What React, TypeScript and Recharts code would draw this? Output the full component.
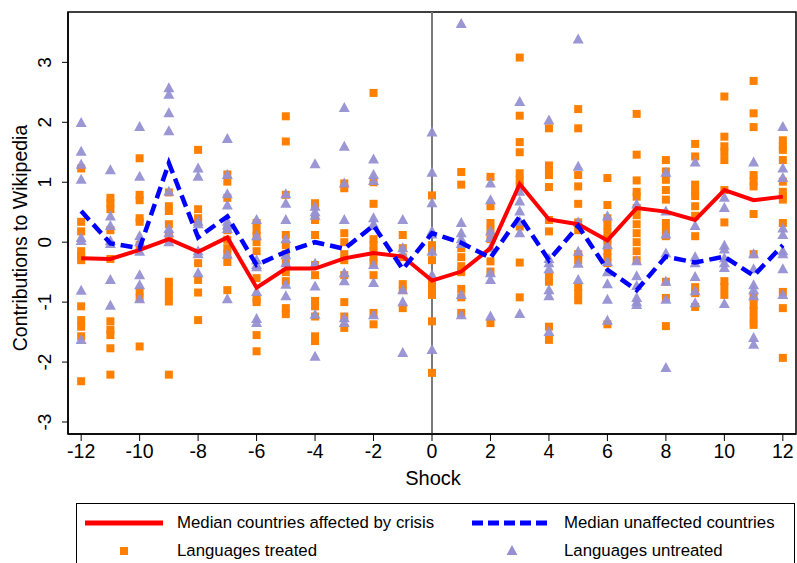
import React from "react"
import { ComposedChart, XAxis, YAxis, Scatter, ReferenceLine, ReferenceArea } from "recharts"

const FONT = "'Liberation Sans', Arial, sans-serif"

// event time around the shock
const shocks = [-12, -11, -10, -9, -8, -7, -6, -5, -4, -3, -2, -1, 0, 1, 2, 3, 4, 5, 6, 7, 8, 9, 10, 11, 12]

const medianAffected = [
  -0.27, -0.28, -0.13, 0.05, -0.16, 0.08, -0.76, -0.44, -0.44, -0.27, -0.18, -0.24, -0.64,
  -0.49, -0.1, 0.97, 0.38, 0.3, 0.03, 0.57, 0.51, 0.37, 0.87, 0.7, 0.76,
]

const medianUnaffected = [
  0.52, -0.02, -0.1, 1.32, 0.08, 0.43, -0.38, -0.16, 0.0, -0.11, 0.28, -0.45, 0.15,
  -0.01, -0.26, 0.43, -0.3, 0.27, -0.46, -0.8, -0.24, -0.34, -0.24, -0.56, -0.05,
]

// languages treated (squares), one list per shock
const treated = [
  [1.23, 0.34, 0.18, -0.15, -0.24, -0.3, -1.07, -1.3, -1.41, -1.57, -2.32],
  [0.74, 0.65, 0.55, 0.2, -0.28, -1.32, -1.46, -1.55, -1.77, -2.21],
  [1.4, 0.79, 0.7, 0.4, 0.34, -0.05, -0.82, -0.93, -1.74],
  [0.83, 0.6, 0.52, 0.3, 0.12, -0.66, -0.77, -0.88, -0.99, -2.21],
  [1.54, 0.55, 0.4, 0.33, -0.35, -0.63, -0.84, -1.3],
  [1.13, 1.01, 0.74, 0.2, 0.04, -0.1, -0.2, -0.33, -0.8],
  [0.32, 0.2, 0.1, 0.0, -0.15, -0.6, -0.95, -1.0, -1.55, -1.82],
  [2.1, 1.68, 0.79, 0.12, -0.05, -0.2, -0.35, -0.5, -0.65, -1.1, -1.2],
  [0.65, 0.6, 0.37, 0.12, -0.38, -0.55, -0.98, -1.07, -1.24, -1.57, -1.65],
  [0.98, 0.9, 0.15, 0.0, -0.2, -0.3, -0.55, -1.0, -1.24, -1.43],
  [2.49, 1.0, 0.64, 0.05, -0.05, -0.15, -0.25, -0.35, -0.55, -1.18, -1.37],
  [0.12, -0.1, -0.25, -0.7, -0.8, -1.1],
  [0.78, -0.05, -0.15, -0.3, -0.68, -0.78, -0.88, -1.32, -2.18],
  [1.17, 0.96, -0.1, -0.25, -0.4, -0.5, -0.78, -0.92, -1.18],
  [1.09, 0.6, 0.32, 0.2, 0.05, -0.32, -0.49, -1.35],
  [3.08, 2.11, 1.67, 1.5, 1.15, 1.04, 0.93, 0.26, -0.34, -0.92],
  [1.9, 1.28, 1.2, 1.12, 0.92, 0.37, 0.18, -0.58, -0.66, -1.41, -1.63],
  [2.22, 1.9, 1.12, 0.93, 0.64, 0.33, 0.2, -0.2, -0.3, -0.75, -0.85, -0.97],
  [1.07, 0.62, 0.4, 0.28, 0.17, 0.06, -0.05, -0.15, -0.25, -0.35, -1.37],
  [2.14, 1.46, 1.03, 0.84, 0.76, 0.57, 0.45, 0.3, 0.15, 0.0, -0.15, -0.3],
  [1.37, 1.18, 1.04, 0.87, 0.71, 0.32, 0.2, 0.1, -0.66, -0.93, -1.4],
  [1.64, 1.43, 0.96, 0.85, 0.77, 0.6, 0.44, 0.1, -0.75, -0.85, -1.08],
  [2.43, 1.76, 1.6, 1.5, 1.37, 0.87, 0.33, -0.65, -0.75, -0.88],
  [2.69, 2.15, 1.92, 1.12, 1.02, 0.93, 0.47, -0.2, -0.93, -1.05, -1.15, -1.27, -1.38],
  [1.7, 1.6, 1.54, 1.37, 1.01, 0.84, 0.77, 0.71, 0.32, -0.83, -1.1, -1.93],
]

// languages untreated (triangles), one list per shock
const untreated = [
  [1.99, 1.51, 1.29, 1.04, 0.07, 0.02, -0.81, -1.63],
  [1.2, 0.43, 0.27, 0.02, -0.03, -0.63, -1.06],
  [1.92, 1.09, 0.1, 0.0, -0.16, -0.55, -0.72, -0.95],
  [2.57, 2.46, 2.15, 1.85, 0.84, 0.22, 0.15, 0.0],
  [1.23, 1.09, 0.34, 0.3, -0.15, -0.2, -0.52],
  [1.72, 1.12, 0.8, 0.61, 0.34, 0.28, 0.22, -0.21, -0.95],
  [0.37, 0.1, -0.3, -0.38, -0.42, -0.83, -1.28, -1.35],
  [0.8, 0.64, 0.37, 0.05, -0.22, -0.35, -0.71, -0.9],
  [1.3, 0.59, 0.5, 0.44, -0.36, -0.74, -1.21, -1.91],
  [2.24, 1.59, 0.98, 0.37, -0.52, -0.65, -1.27, -1.35],
  [1.38, 1.12, 1.02, 0.4, 0.3, 0.27, -0.38, -0.68, -1.22],
  [0.37, -0.1, -0.2, -0.8, -1.0, -1.85],
  [1.83, 1.16, 0.65, 0.18, 0.13, -0.16, -0.55, -1.8],
  [3.64, 0.32, 0.15, 0.05, -0.03, -0.88, -1.22],
  [0.98, 0.7, 0.18, 0.07, -0.1, -0.52, -0.63, -1.24],
  [2.34, 0.84, 0.68, 0.51, 0.34, 0.15, -1.2],
  [2.03, -0.28, -0.35, -0.45, -0.8, -0.9, -1.5],
  [3.38, 1.26, 0.33, -0.16, -0.36, -0.63],
  [0.43, -0.05, -0.33, -0.5, -0.7, -0.96, -1.31],
  [0.63, -0.32, -0.57, -0.73, -0.93, -1.0, -1.05],
  [1.16, 0.51, 0.13, -0.19, -0.66, -0.96, -2.1],
  [1.33, 0.27, -0.25, -0.35, -0.58, -0.82, -1.02],
  [0.74, 0.57, -0.06, -0.12, -0.27, -0.35, -0.43, -1.03],
  [1.33, -0.2, -0.45, -0.72, -0.8, -0.9, -1.6, -1.71],
  [1.92, 1.23, 1.07, 0.23, 0.12, -0.15, -0.2, -0.45, -0.88],
]

const xTicks = [-12, -10, -8, -6, -4, -2, 0, 2, 4, 6, 8, 10, 12]
const yTicks = [-3, -2, -1, 0, 1, 2, 3]

const X_DOMAIN = [-12.45, 12.45]
const Y_DOMAIN = [-3.2, 3.84]

const ORANGE = "#ff8000"
const PURPLE = "#9690d2"

const treatedPoints = shocks.flatMap((s, i) => treated[i].map((y) => ({ x: s, y })))
const untreatedPoints = shocks.flatMap((s, i) => untreated[i].map((y) => ({ x: s, y })))
const affectedLine = shocks.map((s, i) => ({ x: s, y: medianAffected[i] }))
const unaffectedLine = shocks.map((s, i) => ({ x: s, y: medianUnaffected[i] }))

const Square = (props: any) => (
  <rect x={props.cx - 4} y={props.cy - 4} width={8} height={8} fill={ORANGE} />
)

const Triangle = (props: any) => {
  const { cx, cy } = props
  return (
    <polygon
      points={`${cx},${cy - 6} ${cx - 5.5},${cy + 4} ${cx + 5.5},${cy + 4}`}
      fill={PURPLE}
      fillOpacity={0.95}
    />
  )
}

const NoDot = () => <g />

const YTick = (props: any) => {
  const { y, payload } = props
  return (
    <text
      x={51}
      y={y}
      transform={`rotate(-90, 51, ${y})`}
      textAnchor="middle"
      fontSize={19}
      fontFamily={FONT}
      fill="#000"
    >
      {payload.value}
    </text>
  )
}

function Legend() {
  return (
    <div
      style={{
        position: "absolute",
        left: 76,
        top: 503,
        width: 719,
        height: 80,
        border: "1px solid #000",
        boxSizing: "border-box",
        fontFamily: FONT,
        fontSize: 16.8,
        color: "#000",
      }}
    >
      <svg width={719} height={80} style={{ position: "absolute", left: 0, top: 0 }}>
        <line x1={8} x2={86} y1={19} y2={19} stroke="#ff0000" strokeWidth={5} />
        <line x1={395} x2={475} y1={19} y2={19} stroke="#0000ff" strokeWidth={5} strokeDasharray="11 5" />
        <rect x={43} y={43} width={8} height={8} fill={ORANGE} />
        <polygon points="435,41 429.5,51 440.5,51" fill={PURPLE} />
      </svg>
      <div style={{ position: "absolute", left: 100, top: 8, lineHeight: "22px" }}>
        Median countries affected by crisis
      </div>
      <div style={{ position: "absolute", left: 487, top: 8, lineHeight: "22px" }}>
        Median unaffected countries
      </div>
      <div style={{ position: "absolute", left: 100, top: 36, lineHeight: "22px" }}>Languages treated</div>
      <div style={{ position: "absolute", left: 487, top: 36, lineHeight: "22px" }}>Languages untreated</div>
    </div>
  )
}

export default function App() {
  return (
    <div
      style={{
        position: "absolute",
        left: 0,
        top: 0,
        width: 797,
        height: 563,
        background: "#fff",
        overflow: "hidden",
        fontFamily: FONT,
      }}
    >
      <ComposedChart width={797} height={563} margin={{ top: 12, right: 1, bottom: 99, left: 0 }}>
        <XAxis
          type="number"
          dataKey="x"
          domain={X_DOMAIN}
          ticks={xTicks}
          interval={0}
          allowDataOverflow
          height={30}
          tickSize={7}
          tickMargin={3}
          axisLine={{ stroke: "#000", strokeWidth: 1.5 }}
          tickLine={{ stroke: "#000", strokeWidth: 1 }}
          tick={{ fontSize: 19.5, fill: "#000", fontFamily: FONT }}
        />
        <YAxis
          type="number"
          dataKey="y"
          domain={Y_DOMAIN}
          ticks={yTicks}
          interval={0}
          allowDataOverflow
          width={68}
          tickSize={6}
          axisLine={{ stroke: "#000", strokeWidth: 1.5 }}
          tickLine={{ stroke: "#000", strokeWidth: 1 }}
          tick={YTick}
        />
        <ReferenceLine x={0} stroke="#7a7a7a" strokeWidth={2} />
        <Scatter data={treatedPoints} dataKey="y" shape={Square} isAnimationActive={false} />
        <Scatter data={untreatedPoints} dataKey="y" shape={Triangle} isAnimationActive={false} />
        <Scatter
          data={affectedLine}
          dataKey="y"
          shape={NoDot}
          line={{ stroke: "#ff0000", strokeWidth: 4 }}
          isAnimationActive={false}
        />
        <Scatter
          data={unaffectedLine}
          dataKey="y"
          shape={NoDot}
          line={{ stroke: "#0000ff", strokeWidth: 4.5, strokeDasharray: "12 6" }}
          isAnimationActive={false}
        />
        <ReferenceArea
          x1={X_DOMAIN[0]}
          x2={X_DOMAIN[1]}
          y1={Y_DOMAIN[0]}
          y2={Y_DOMAIN[1]}
          fill="none"
          fillOpacity={0}
          stroke="#000"
          strokeWidth={1.5}
        />
      </ComposedChart>

      <svg width={797} height={563} style={{ position: "absolute", left: 0, top: 0, pointerEvents: "none" }}>
        <text
          x={27}
          y={238}
          transform="rotate(-90, 27, 238)"
          textAnchor="middle"
          fontSize={19.5}
          fontFamily={FONT}
          fill="#000"
        >
          Contributions to Wikipedia
        </text>
        <text x={433} y={485} textAnchor="middle" fontSize={20} fontFamily={FONT} fill="#000">
          Shock
        </text>
      </svg>

      <Legend />
    </div>
  )
}
